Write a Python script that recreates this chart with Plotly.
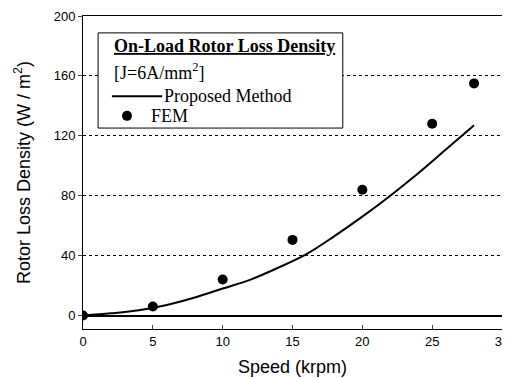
import plotly.graph_objects as go

speed_curve = [0, 2, 4, 6, 8, 10, 12, 14, 16, 18, 20, 22, 24, 26, 28]
loss_curve = [0, 1.5, 3.5, 7, 12, 18, 24, 32, 41, 53, 66, 80, 95, 111, 127]

speed_fem = [0, 5, 10, 15, 20, 25, 28]
loss_fem = [0, 6, 24, 50.5, 84, 128, 155]

x_ticks = [0, 5, 10, 15, 20, 25, 30]
y_ticks = [0, 40, 80, 120, 160, 200]

legend_title = "<b><u>On-Load Rotor Loss Density</u></b>"
legend_sub = "[J=6A/mm<sup>2</sup>]"
legend_names = ["Proposed Method", "FEM"]

serif = "Liberation Serif, Times New Roman, serif"

fig = go.Figure()
fig.add_trace(go.Scatter(x=speed_curve, y=loss_curve, mode="lines",
                         line=dict(color="black", width=2, shape="spline"),
                         name=legend_names[0], showlegend=False))
fig.add_trace(go.Scatter(x=speed_fem, y=loss_fem, mode="markers",
                         marker=dict(color="black", size=10),
                         name=legend_names[1], showlegend=False))

# manual legend box (paper coordinates of the plot area)
fig.add_shape(type="rect", xref="paper", yref="paper",
              x0=0.036, x1=0.62, y0=0.642, y1=0.946,
              line=dict(color="black", width=1), fillcolor="white", layer="above")
fig.add_shape(type="line", xref="paper", yref="paper",
              x0=0.069, x1=0.189, y0=0.744, y1=0.744,
              line=dict(color="black", width=2), layer="above")
fig.add_shape(type="circle", xref="paper", yref="paper",
              x0=0.105 - 0.0119, x1=0.105 + 0.0119, y0=0.681 - 0.016, y1=0.681 + 0.016,
              line=dict(color="black", width=0), fillcolor="black", layer="above")

ann = dict(xref="paper", yref="paper", showarrow=False, xanchor="left", yanchor="middle",
           font=dict(family=serif, size=18, color="black"))
fig.add_annotation(text=legend_title, x=0.070, y=0.904, **ann)
fig.add_annotation(text=legend_sub, x=0.070, y=0.824, **ann)
fig.add_annotation(text=legend_names[0], x=0.189, y=0.744, **ann)
fig.add_annotation(text=legend_names[1], x=0.158, y=0.681, **ann)

# page body has an 8px margin; compensate so the plot area lands where the reference has it
fig.update_layout(
    width=502, height=370,
    margin=dict(l=75, r=8, t=8, b=49),
    showlegend=False,
    paper_bgcolor="white", plot_bgcolor="white",
    font=dict(family="Liberation Sans, Arial", color="black", size=13),
    xaxis=dict(range=[0, 30], tickvals=x_ticks, ticks="inside", ticklen=4,
               showline=True, linecolor="black", linewidth=1, mirror=True,
               showgrid=False, zeroline=False, automargin=False,
               title=dict(text="Speed (krpm)", font=dict(size=18), standoff=12),
               tickfont=dict(size=13)),
    yaxis=dict(range=[-9, 200], tickvals=y_ticks, ticks="outside", ticklen=4,
               showline=True, linecolor="black", linewidth=1, mirror=True,
               showgrid=True, gridcolor="black", griddash="dot", gridwidth=1,
               zeroline=True, zerolinecolor="black", zerolinewidth=1.5,
               automargin=False,
               title=dict(text="Rotor Loss Density (W / m<sup>2</sup>)", font=dict(size=18), standoff=18),
               tickfont=dict(size=13)),
)

fig.write_html("out.html")
